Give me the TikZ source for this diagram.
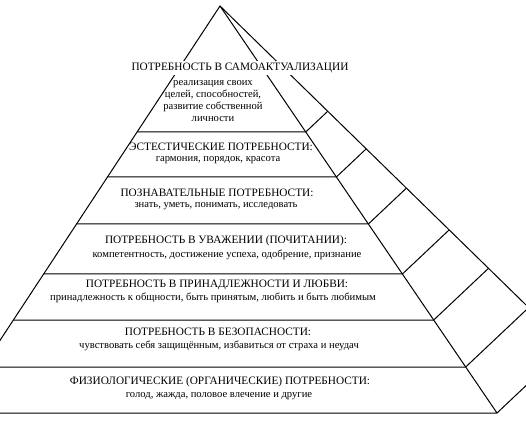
\documentclass[tikz,border=0pt]{standalone}
\usepackage{fontspec}
\setmainfont{Liberation Serif}
\usetikzlibrary{calc}

\begin{document}
\begin{tikzpicture}[
    x=1pt, y=-1pt,
    edge/.style={line width=1pt, line join=round},
    head/.style={font=\fontsize{11.3}{13}\selectfont, inner sep=0pt},
    note/.style={font=\fontsize{10.6}{12}\selectfont, inner sep=0pt, align=center},
    cover/.style={fill=white, inner ysep=2pt, inner xsep=1pt}
]
\useasboundingbox (0,0) rectangle (526,420);
\clip (0,0) rectangle (526,420);

% pyramid corners (the left one and the back one lie outside the frame)
\coordinate (A) at (220,6);
\coordinate (L) at (-47.8,413);
\coordinate (R) at (497,413);
\coordinate (C) at (568,346);

\draw[edge] (L) -- (A) -- (R) -- cycle;
\draw[edge] (A) -- (C) -- (R);

% levels
\foreach \y [count=\i] in {132,177,224,274,320,367} {
  \pgfmathsetmacro{\pos}{(\y-6)/407}
  \coordinate (l\i) at ($(A)!\pos!(L)$);
  \coordinate (f\i) at ($(A)!\pos!(R)$);
  \coordinate (g\i) at ($(f\i)+(C)-(R)$);
  \coordinate (b\i) at (intersection cs: first line={(f\i)--(g\i)}, second line={(A)--(C)});
  \draw[edge] (l\i) -- (f\i) -- (b\i);
}

% texts, top to bottom
\node[head, cover] (t1) at (240,68) {ПОТРЕБНОСТЬ В САМОАКТУАЛИЗАЦИИ};
\node[note] (d1) at (213,101) {реализация своих\\целей, способностей,\\развитие собственной\\личности};

\node[head] (t2) at (221,147) {ЭСТЕСТИЧЕСКИЕ ПОТРЕБНОСТИ:};
\node[note] (d2) at (218,160) {гармония, порядок, красота};

\node[head] (t3) at (217,193) {ПОЗНАВАТЕЛЬНЫЕ ПОТРЕБНОСТИ:};
\node[note] (d3) at (216,206) {знать, уметь, понимать, исследовать};

\node[head] (t4) at (226,241) {ПОТРЕБНОСТЬ В УВАЖЕНИИ (ПОЧИТАНИИ):};
\node[note] (d4) at (227,255) {компетентность, достижение успеха, одобрение, признание};

\node[head] (t5) at (217,285) {ПОТРЕБНОСТЬ В ПРИНАДЛЕЖНОСТИ И ЛЮБВИ:};
\node[note] (d5) at (213,298) {принадлежность к общности, быть принятым, любить и быть любимым};

\node[head] (t6) at (218,332) {ПОТРЕБНОСТЬ В БЕЗОПАСНОСТИ:};
\node[note] (d6) at (219,346) {чувствовать себя защищённым, избавиться от страха и неудач};

\node[head] (t7) at (220,382) {ФИЗИОЛОГИЧЕСКИЕ (ОРГАНИЧЕСКИЕ) ПОТРЕБНОСТИ:};
\node[note] (d7) at (219,396) {голод, жажда, половое влечение и другие};
\end{tikzpicture}
\end{document}
